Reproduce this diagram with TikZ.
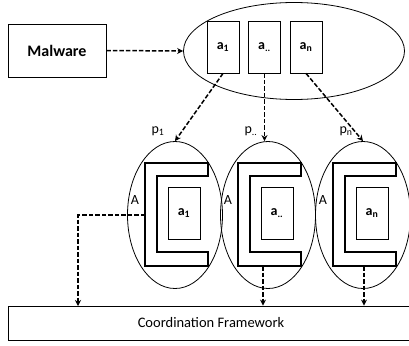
\documentclass[tikz,border=0pt]{standalone}
\usepackage{fontspec}
\setmainfont{Carlito}
\usetikzlibrary{shapes.geometric,arrows.meta}

\begin{document}
\begin{tikzpicture}[x=1pt,y=-1pt,
    agent/.style={draw,line width=0.8pt,minimum width=32pt,minimum height=52pt,inner sep=0pt,font=\fontsize{14}{16}\selectfont\bfseries},
    cell/.style={draw,line width=0.8pt,ellipse,inner sep=0pt,minimum width=95pt,minimum height=147pt},
    flow/.style={line width=1.5pt,dash pattern=on 4.5pt off 2pt,-{Stealth[length=6pt,width=6pt]}}]
  \useasboundingbox (0,0) rectangle (409,345);

  % malware and the agents it spawns
  \node[draw,line width=0.8pt,minimum width=98pt,minimum height=53pt,font=\fontsize{16}{18}\selectfont\bfseries] (malware) at (57,50.5) {Malware};
  \node[draw,line width=0.8pt,ellipse,inner sep=0pt,minimum width=221pt,minimum height=97pt] (agents) at (294,51) {};
  \node[agent] (a1) at (223,47) {a\textsubscript{1}};
  \node[agent] (a2) at (264.5,47) {a\textsubscript{..}};
  \node[agent] (a3) at (306,47) {a\textsubscript{n}};
  \draw[flow] (malware.east) -- (agents.west);

  % coordination framework (runs off the right edge)
  \node[draw,line width=0.8pt,minimum width=406pt,minimum height=34pt,font=\fontsize{14.5}{16}\selectfont] (frame) at (211,323) {Coordination Framework};

  % one process per agent, each wrapped by an A layer
  \foreach \i/\cx/\lab in {1/175/1,2/268/..,3/363/n}{
    \node[cell] (p\i) at (\cx,215) {};
    \node[font=\fontsize{14}{16}\selectfont] (lp\i) at (\cx-17,131) {p\textsubscript{\lab}};
    \node[font=\fontsize{14}{16}\selectfont] (la\i) at (\cx-40,200) {A};
    \node[agent] (b\i) at (\cx+9,213) {a\textsubscript{\lab}};
    \draw[line width=2pt,miter limit=4]
      (\cx+33,163) -- (\cx-30,163) -- (\cx-30,266) -- (\cx+33,266) -- (\cx+33,252)
      -- (\cx-18,252) -- (\cx-18,176) -- (\cx+33,176) -- cycle;
    \coordinate (w\i) at (\cx-30,215);
  }
  \coordinate (s2) at (263,266);
  \coordinate (s3) at (364,266);

  % agents to processes
  \draw[flow] (a1.south) -- (p1.north);
  \draw[flow] (a2.south) -- (a2.south |- p2.north);
  \draw[flow] (a3.south) -- (p3.north);

  % processes to the framework
  \draw[flow] (w1) -- (78,215) -- (78,306);
  \draw[flow] (s2) -- (s2 |- frame.north);
  \draw[flow] (s3) -- (s3 |- frame.north);
\end{tikzpicture}
\end{document}
